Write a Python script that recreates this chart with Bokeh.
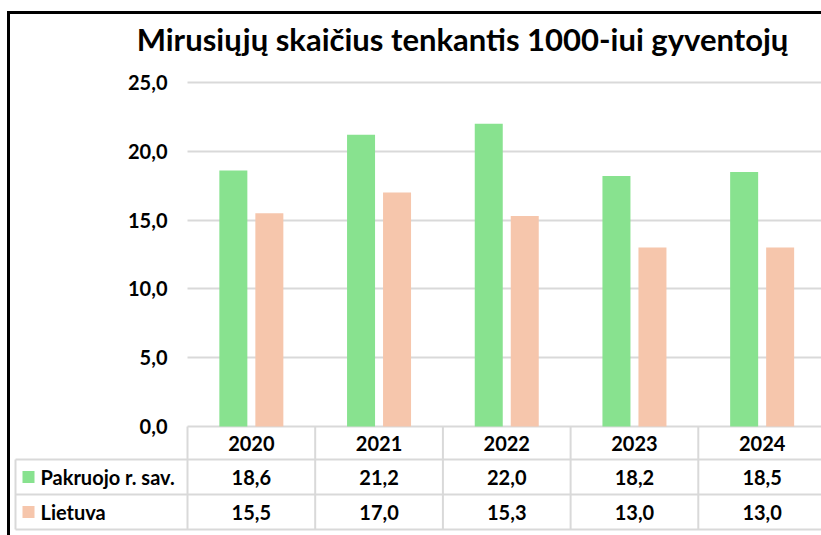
import numpy as np
from bokeh.plotting import figure
from bokeh.models import (Range1d, FixedTicker, CustomJSTickFormatter,
                          ColumnDataSource, Grid)
from bokeh.transform import dodge
from bokeh.core.properties import value
from bokeh.embed import file_html
from bokeh.resources import INLINE

# ---------------- data ----------------
title_text = "Mirusiųjų skaičius tenkantis 1000-iui gyventojų"
years = ["2020", "2021", "2022", "2023", "2024"]
series_names = ["Pakruojo r. sav.", "Lietuva"]
pakruojo = [18.6, 21.2, 22.0, 18.2, 18.5]
lietuva = [15.5, 17.0, 15.3, 13.0, 13.0]
y_ticks = [0, 5, 10, 15, 20, 25]
colors = ["#88E28F", "#F6C6AC"]

# ---------------- layout (canvas pixels) ----------------
W, H = 821, 535
X0 = 187            # left edge of first category
CAT_W = 127.7       # width of one category
Y0 = 426            # pixel of value 0
Y25 = 82            # pixel of value 25
PPU = (Y0 - Y25) / 25.0
ROW_TOP = [426, 459, 494]
ROW_BOT = [459, 494, 529]
TABLE_LEFT = 15
FONT = "Lato"
LBL_SIZE = "20px"
GRID_COL = "#D9D9D9"


def dx(px):
    return -0.5 + (px - X0) / CAT_W


def dy(py):
    return (Y0 - py) / PPU


def fmt(v):
    return f"{v:.1f}".replace(".", ",")


p = figure(width=W, height=H, output_backend="svg", toolbar_location=None,
           x_range=Range1d(dx(0), dx(W)), y_range=Range1d(dy(H), dy(0)),
           min_border=0, min_border_left=0, min_border_right=0,
           min_border_top=0, min_border_bottom=0)
p.outline_line_color = None
p.background_fill_color = "white"
p.border_fill_color = "white"
p.xaxis.visible = False
p.xgrid.visible = False

# y axis drawn inside the canvas at the left edge of the category area
yax = p.yaxis[0]
yax.fixed_location = -0.5
yax.ticker = FixedTicker(ticks=y_ticks)
yax.formatter = CustomJSTickFormatter(code="return tick.toFixed(1).replace('.', ',');")
yax.axis_line_color = None
yax.major_tick_line_color = None
yax.minor_tick_line_color = None
yax.major_tick_out = 0
yax.major_tick_in = 0
yax.major_label_standoff = 20
yax.major_label_text_font = FONT
yax.major_label_text_font_style = "bold"
yax.major_label_text_font_size = LBL_SIZE
yax.major_label_text_color = "#000000"

yg = p.ygrid[0]
yg.ticker = FixedTicker(ticks=y_ticks)
yg.grid_line_color = GRID_COL
yg.grid_line_width = 2
if "cross_bounds" in Grid.properties():
    yg.cross_bounds = (-0.5, len(years) - 0.5)
else:
    yg.visible = False
    p.segment(x0=[-0.5] * len(y_ticks), x1=[len(years) - 0.5] * len(y_ticks),
              y0=y_ticks, y1=y_ticks, line_color=GRID_COL, line_width=2,
              level="underlay")

# bars
idx = list(range(len(years)))
src = ColumnDataSource(dict(idx=idx, year=years, pak=pakruojo, lt=lietuva,
                            pak_s=[fmt(v) for v in pakruojo],
                            lt_s=[fmt(v) for v in lietuva]))
BW = 28 / CAT_W
OFF = 18 / CAT_W
p.vbar(x=dodge("idx", -OFF), top="pak", width=BW, bottom=0, source=src,
       fill_color=colors[0], line_color=None)
p.vbar(x=dodge("idx", OFF), top="lt", width=BW, bottom=0, source=src,
       fill_color=colors[1], line_color=None)

# table lines
x_left = dx(TABLE_LEFT)
x_right = dx(W)
for yb in ROW_BOT:
    p.segment(x0=[x_left], x1=[x_right], y0=[dy(yb)], y1=[dy(yb)],
              line_color=GRID_COL, line_width=2)
p.segment(x0=[x_left], x1=[x_left], y0=[dy(ROW_TOP[1])], y1=[dy(ROW_BOT[2])],
          line_color=GRID_COL, line_width=2)
bounds = [i - 0.5 for i in idx]
p.segment(x0=bounds, x1=bounds, y0=[0] * len(bounds), y1=[dy(ROW_BOT[2])] * len(bounds),
          line_color=GRID_COL, line_width=2)

tstyle = dict(text_font=value(FONT), text_font_style=value("bold"),
              text_font_size=value(LBL_SIZE), text_color="#000000",
              text_baseline="middle")
mid = [dy((a + b) / 2) for a, b in zip(ROW_TOP, ROW_BOT)]
p.text(x="idx", y=mid[0], text="year", source=src, text_align="center", **tstyle)
p.text(x="idx", y=mid[1], text="pak_s", source=src, text_align="center", **tstyle)
p.text(x="idx", y=mid[2], text="lt_s", source=src, text_align="center", **tstyle)

# legend keys inside table
for k, name in enumerate(series_names):
    ym = (ROW_TOP[k + 1] + ROW_BOT[k + 1]) / 2
    p.quad(left=[dx(22)], right=[dx(34)], top=[dy(ym - 6)], bottom=[dy(ym + 6)],
           fill_color=colors[k], line_color=None)
    p.text(x=[dx(40)], y=[dy(ym)], text=[name], text_align="left", **tstyle)

# title
p.text(x=[dx(462)], y=[dy(38)], text=[title_text], text_align="center",
       text_baseline="alphabetic", text_font=value(FONT), text_font_style=value("bold"),
       text_font_size=value("31px"), text_color="#000000")

# black frame lines (top and left)
p.segment(x0=[dx(7)], x1=[dx(W)], y0=[dy(12)], y1=[dy(12)], line_color="black", line_width=3)
p.segment(x0=[dx(8)], x1=[dx(8)], y0=[dy(10.5)], y1=[dy(H)], line_color="black", line_width=3)

open("out.html", "w").write(file_html(p, INLINE))
